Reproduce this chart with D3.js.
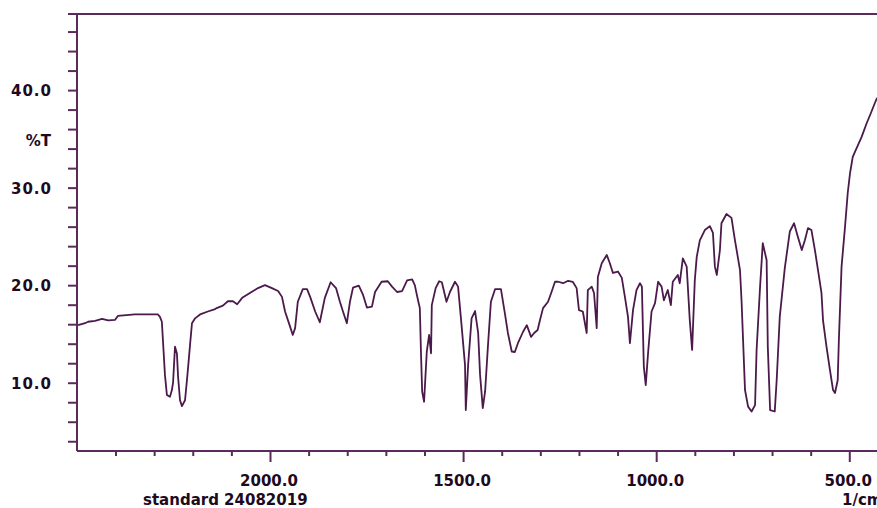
<!DOCTYPE html>
<html>
<head>
<meta charset="utf-8">
<script src="https://cdn.jsdelivr.net/npm/d3@7"></script>
<style>
  body { margin: 0; background: #fff; }
  .lbl { font-family: "DejaVu Sans", sans-serif; font-weight: bold; font-size: 15px; fill: #1e0a1e; }
</style>
</head>
<body>
<div id="ir"></div>
<script>
// spectrum (wavenumber in 1/cm, %T)
let wavenumbers = [
  2497, 2479, 2471, 2453, 2435, 2419, 2401, 2394, 2350, 2290, 2285, 2280, 2277, 2272,
  2267, 2259, 2254, 2251, 2246, 2241, 2238, 2233, 2228, 2220, 2215, 2212, 2207, 2202,
  2194, 2181, 2161, 2142, 2138, 2122, 2109, 2096, 2085, 2072, 2052, 2031, 2013, 1995,
  1979, 1969, 1961, 1948, 1941, 1935, 1928, 1915, 1904, 1896, 1883, 1871, 1858, 1843,
  1829, 1819, 1811, 1801, 1793, 1785, 1770, 1759, 1749, 1736, 1728, 1711, 1695, 1684,
  1671, 1658, 1645, 1632, 1625, 1617, 1612, 1609, 1606, 1601, 1594, 1588, 1583, 1581,
  1571, 1562, 1555, 1543, 1534, 1521, 1513, 1504, 1495, 1493, 1487, 1478, 1469, 1461,
  1456, 1449, 1443, 1436, 1428, 1417, 1402, 1392, 1384, 1374, 1366, 1358, 1345, 1335,
  1324, 1316, 1307, 1301, 1293, 1280, 1271, 1262, 1254, 1241, 1228, 1216, 1206, 1200,
  1190, 1180, 1177, 1167, 1161, 1154, 1151, 1141, 1128, 1120, 1112, 1099, 1089, 1081,
  1073, 1068, 1060, 1051, 1042, 1037, 1032, 1027, 1021, 1012, 1003, 995, 986, 980,
  970, 962, 957, 944, 939, 931, 921, 913, 907, 900, 895, 887, 874, 861,
  853, 848, 843, 835, 831, 818, 805, 796, 783, 779, 775, 770, 762, 753,
  744, 740, 731, 724, 714, 711, 705, 693, 688, 680, 667, 654, 643, 633,
  623, 615, 607, 598, 589, 581, 572, 568, 559, 550, 542, 537, 530, 527,
  520, 511, 504, 498, 491, 481, 468, 455, 444, 434, 428
];

let transmittance = [
  15.9, 16.1, 16.25, 16.35, 16.55, 16.4, 16.45, 16.85, 17.0, 17.0, 16.75, 16.25, 14.2, 10.8,
  8.75, 8.55, 9.25, 10.0, 13.7, 13.0, 10.6, 8.2, 7.6, 8.2, 10.3, 11.6, 13.9, 16.1,
  16.6, 17.0, 17.3, 17.55, 17.65, 17.9, 18.35, 18.35, 18.05, 18.7, 19.2, 19.7, 20.0, 19.7,
  19.4, 18.8, 17.3, 15.75, 14.9, 15.6, 18.3, 19.6, 19.6, 18.8, 17.3, 16.2, 18.7, 20.3,
  19.7, 18.3, 17.3, 16.1, 18.3, 19.75, 19.95, 19.0, 17.7, 17.8, 19.3, 20.35, 20.4, 19.85,
  19.3, 19.4, 20.5, 20.6, 20.0, 18.5, 17.65, 13.0, 9.1, 8.05, 13.2, 14.9, 13.0, 17.95,
  19.7, 20.4, 20.3, 18.3, 19.3, 20.35, 19.85, 15.9, 11.8, 7.2, 11.8, 16.6, 17.35, 15.1,
  10.8, 7.4, 9.1, 13.55, 18.3, 19.6, 19.6, 17.15, 15.1, 13.2, 13.15, 14.05, 15.2, 15.9,
  14.7, 15.1, 15.4, 16.4, 17.65, 18.3, 19.3, 20.35, 20.35, 20.2, 20.45, 20.35, 19.7, 17.45,
  17.3, 15.1, 19.5, 19.85, 19.2, 15.6, 20.85, 22.25, 23.1, 22.25, 21.25, 21.4, 20.75, 18.8,
  16.75, 14.05, 17.45, 19.5, 20.2, 19.85, 11.65, 9.75, 13.05, 17.3, 18.15, 20.35, 19.85, 18.45,
  19.5, 17.95, 20.35, 21.05, 20.2, 22.75, 21.9, 16.4, 13.35, 20.5, 22.9, 24.6, 25.65, 26.05,
  25.35, 21.9, 21.05, 23.6, 26.35, 27.3, 26.9, 24.6, 21.55, 18.45, 14.35, 9.25, 7.55, 7.05,
  7.7, 13.35, 19.85, 24.3, 22.55, 13.7, 7.2, 7.05, 10.25, 16.75, 21.75, 25.5, 26.35, 24.95,
  23.6, 24.6, 25.85, 25.65, 23.6, 21.55, 19.2, 16.4, 13.7, 11.3, 9.25, 8.95, 10.25, 14.35,
  21.9, 26.0, 29.45, 31.5, 33.15, 34.05, 35.2, 36.6, 37.65, 38.65, 39.2
];

let majorX = [2000, 1500, 1000, 500];
let minorX = [2400, 2300, 2200, 2100, 1900, 1800, 1700, 1600, 1400, 1300, 1200, 1100,
              900, 800, 700, 600];
let majorY = [10, 20, 30, 40];
let minorY = [4, 6, 8, 12, 14, 16, 18, 22, 24, 26, 28, 32, 34, 36, 38, 42, 44, 46];

let width  = 877,
    height = 508;

let frame = { left: 77, top: 14, bottom: 451 };

let axisColor = "#5a2a5a",
    lineColor = "#4b1a4b";

let svg =
  d3.select("#ir")
    .append("svg")
      .attr("width", width)
      .attr("height", height)
      .style("display", "block");

let x =
  d3.scaleLinear()
    .domain([2500, 400])
    .range([76.9, 887.9]);

let y =
  d3.scaleLinear()
    .domain([3.0, 47.8])
    .range([frame.bottom, frame.top]);

let data = wavenumbers.map(function(w, i) { return {wn: w, t: transmittance[i]}; });

// top border
svg.append("line")
    .attr("x1", 68).attr("x2", width)
    .attr("y1", frame.top).attr("y2", frame.top)
    .attr("stroke", axisColor)
    .attr("stroke-width", 2);

// x axis: minor then major ticks
svg.append("g")
    .attr("transform", translate(0, frame.bottom))
    .call(d3.axisBottom(x).tickValues(minorX).tickSize(5).tickSizeOuter(0).tickFormat(""))
    .call(function(g) { g.select(".domain").remove(); });

svg.append("g")
    .attr("transform", translate(0, frame.bottom))
    .call(d3.axisBottom(x).tickValues(majorX).tickSize(11).tickSizeOuter(0).tickFormat(""))
    .call(function(g) { g.select(".domain").remove(); });

svg.append("line")
    .attr("x1", frame.left).attr("x2", width)
    .attr("y1", frame.bottom).attr("y2", frame.bottom)
    .attr("stroke", axisColor)
    .attr("stroke-width", 2);

// y axis
svg.append("g")
    .attr("transform", translate(frame.left, 0))
    .call(d3.axisLeft(y).tickValues(minorY.concat(majorY)).tickSize(9).tickSizeOuter(0).tickFormat(""))
    .call(function(g) { g.select(".domain").remove(); });

svg.append("line")
    .attr("x1", frame.left).attr("x2", frame.left)
    .attr("y1", frame.top).attr("y2", frame.bottom)
    .attr("stroke", axisColor)
    .attr("stroke-width", 2);

svg.selectAll(".tick line")
    .attr("stroke", axisColor)
    .attr("stroke-width", 2);

// labels
svg.selectAll(".xlbl")
    .data(majorX)
  .enter().append("text")
    .attr("class", "lbl")
    .attr("x", function(d) { return x(d) - 1; })
    .attr("y", 486)
    .attr("text-anchor", "middle")
    .text(function(d) { return d.toFixed(1); });

svg.selectAll(".ylbl")
    .data(majorY)
  .enter().append("text")
    .attr("class", "lbl")
    .attr("x", 52)
    .attr("y", function(d) { return y(d) + 6; })
    .attr("text-anchor", "end")
    .style("letter-spacing", "1px")
    .text(function(d) { return d.toFixed(1); });

svg.append("text")
    .attr("class", "lbl")
    .attr("x", 51)
    .attr("y", 146)
    .attr("text-anchor", "end")
    .text("%T");

svg.append("text")
    .attr("class", "lbl")
    .attr("x", 143)
    .attr("y", 505)
    .text("standard 24082019");

// unit label runs off the right edge, as in the original
svg.append("text")
    .attr("class", "lbl")
    .attr("x", 842)
    .attr("y", 505)
    .text("1/cm");

// spectrum
let line =
  d3.line()
    .x(function(d) { return x(d.wn); })
    .y(function(d) { return y(d.t); });

svg.append("path")
    .datum(data)
    .attr("d", line)
    .attr("fill", "none")
    .attr("stroke", lineColor)
    .attr("stroke-width", 1.8)
    .attr("stroke-linejoin", "round");

function translate(x, y=0) {
  return "translate({x}, {y})"
          .replace("{x}", x)
          .replace("{y}", y);
}
</script>
</body>
</html>
